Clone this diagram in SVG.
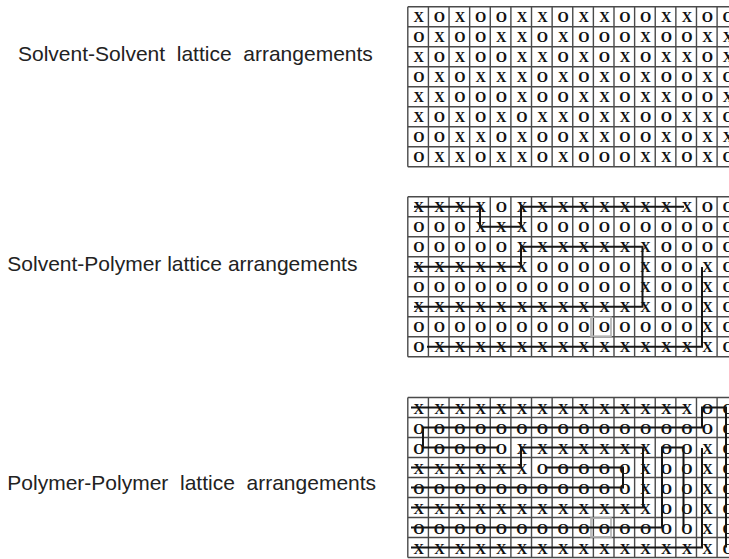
<svg xmlns="http://www.w3.org/2000/svg" xmlns:xlink="http://www.w3.org/1999/xlink" width="729" height="559" viewBox="0 0 729 559">
<style>
.lbl{font-family:"Liberation Sans",Arial,sans-serif;font-size:21px;fill:#222;white-space:pre;}
.cell{font-family:"Liberation Serif","Times New Roman",serif;font-weight:bold;font-size:14.5px;fill:#111;text-anchor:middle;}
.grid{fill:none;stroke:#4a4a4a;stroke-width:1.4;}
.chain{fill:none;stroke:#151515;stroke-width:2;stroke-linejoin:miter;}
.ghost{fill:none;stroke:#b0b0b0;stroke-width:1.6;}
</style>
<defs>
<path id="gridlines" d="M407.8,0H740M407.8,20H740M407.8,40H740M407.8,60H740M407.8,80H740M407.8,100H740M407.8,120H740M407.8,140H740M407.8,160H740M407.8,0V160M428.42,0V160M449.04,0V160M469.66,0V160M490.28,0V160M510.9,0V160M531.52,0V160M552.14,0V160M572.76,0V160M593.38,0V160M614,0V160M634.62,0V160M655.24,0V160M675.86,0V160M696.48,0V160M717.1,0V160"/>
</defs>
<rect width="729" height="559" fill="#fff"/>

<g id="label-solvent-solvent">
<text class="lbl" x="18" y="61" xml:space="preserve">Solvent-Solvent  lattice  arrangements</text>
</g>
<g id="label-solvent-polymer">
<text class="lbl" x="7.3" y="271">Solvent-Polymer lattice arrangements</text>
</g>
<g id="label-polymer-polymer">
<text class="lbl" x="7.3" y="490" xml:space="preserve">Polymer-Polymer  lattice  arrangements</text>
</g>

<g id="lattice-solvent-solvent">
<use xlink:href="#gridlines" href="#gridlines" class="grid" transform="translate(0,6.7)"/>
<g class="cell">
<text x="418.8 439.4 460 480.7 501.3 521.9 542.5 563.2 583.8 604.4 625 645.6 666.3 686.9 707.5 728.1" y="22.4">XOXOOXXOXXOOXXOO</text>
<text x="418.8 439.4 460 480.7 501.3 521.9 542.5 563.2 583.8 604.4 625 645.6 666.3 686.9 707.5 728.1" y="42.4">OXOOXXOXOOOXOOXX</text>
<text x="418.8 439.4 460 480.7 501.3 521.9 542.5 563.2 583.8 604.4 625 645.6 666.3 686.9 707.5 728.1" y="62.4">XOXOOXXOXOXOXXOX</text>
<text x="418.8 439.4 460 480.7 501.3 521.9 542.5 563.2 583.8 604.4 625 645.6 666.3 686.9 707.5 728.1" y="82.4">OXOXXXOXOXOXOOXO</text>
<text x="418.8 439.4 460 480.7 501.3 521.9 542.5 563.2 583.8 604.4 625 645.6 666.3 686.9 707.5 728.1" y="102.4">XXOOOXOOXXOXXOOX</text>
<text x="418.8 439.4 460 480.7 501.3 521.9 542.5 563.2 583.8 604.4 625 645.6 666.3 686.9 707.5 728.1" y="122.4">XOXOXOXXOXXOOXXO</text>
<text x="418.8 439.4 460 480.7 501.3 521.9 542.5 563.2 583.8 604.4 625 645.6 666.3 686.9 707.5 728.1" y="142.4">OOXXOXOOXXOOXOXX</text>
<text x="418.8 439.4 460 480.7 501.3 521.9 542.5 563.2 583.8 604.4 625 645.6 666.3 686.9 707.5 728.1" y="162.4">OXXOXXOXOOOXXOXO</text>
</g>
</g>

<g id="lattice-solvent-polymer">
<use xlink:href="#gridlines" href="#gridlines" class="grid" transform="translate(0,196.7)"/>
<rect class="ghost" x="591" y="317.2" width="20" height="19"/>
<g class="cell">
<text x="418.8 439.4 460 480.7 501.3 521.9 542.5 563.2 583.8 604.4 625 645.6 666.3 686.9 707.5 728.1" y="212.4">XXXXOXXXXXXXXXOO</text>
<text x="418.8 439.4 460 480.7 501.3 521.9 542.5 563.2 583.8 604.4 625 645.6 666.3 686.9 707.5 728.1" y="232.4">OOOXXXOOOOOOOOOO</text>
<text x="418.8 439.4 460 480.7 501.3 521.9 542.5 563.2 583.8 604.4 625 645.6 666.3 686.9 707.5 728.1" y="252.4">OOOOOXXXXXXXOOOO</text>
<text x="418.8 439.4 460 480.7 501.3 521.9 542.5 563.2 583.8 604.4 625 645.6 666.3 686.9 707.5 728.1" y="272.4">XXXXXXOOOOOXOOXO</text>
<text x="418.8 439.4 460 480.7 501.3 521.9 542.5 563.2 583.8 604.4 625 645.6 666.3 686.9 707.5 728.1" y="292.4">OOOOOOOOOOOXOOXO</text>
<text x="418.8 439.4 460 480.7 501.3 521.9 542.5 563.2 583.8 604.4 625 645.6 666.3 686.9 707.5 728.1" y="312.4">XXXXXXXXXXXXOOXO</text>
<text x="418.8 439.4 460 480.7 501.3 521.9 542.5 563.2 583.8 604.4 625 645.6 666.3 686.9 707.5 728.1" y="332.4">OOOOOOOOOOOOOOXO</text>
<text x="418.8 439.4 460 480.7 501.3 521.9 542.5 563.2 583.8 604.4 625 645.6 666.3 686.9 707.5 728.1" y="352.4">OXXXXXXXXXXXXXXO</text>
</g>
</g>

<g id="lattice-polymer-polymer">
<use xlink:href="#gridlines" href="#gridlines" class="grid" transform="translate(0,397.5)"/>
<rect class="ghost" x="591" y="518" width="20" height="19"/>
<g class="cell">
<text x="418.8 439.4 460 480.7 501.3 521.9 542.5 563.2 583.8 604.4 625 645.6 666.3 686.9 707.5 728.1" y="413.6">XXXXXXXXXXXXXXOO</text>
<text x="418.8 439.4 460 480.7 501.3 521.9 542.5 563.2 583.8 604.4 625 645.6 666.3 686.9 707.5 728.1" y="433.6">OOOOOOOOOOOOOOOO</text>
<text x="418.8 439.4 460 480.7 501.3 521.9 542.5 563.2 583.8 604.4 625 645.6 666.3 686.9 707.5 728.1" y="453.6">OOOOOXXXXXXXOOXO</text>
<text x="418.8 439.4 460 480.7 501.3 521.9 542.5 563.2 583.8 604.4 625 645.6 666.3 686.9 707.5 728.1" y="473.6">XXXXXXOOOOOXOOXO</text>
<text x="418.8 439.4 460 480.7 501.3 521.9 542.5 563.2 583.8 604.4 625 645.6 666.3 686.9 707.5 728.1" y="493.6">OOOOOOOOOOOXOOXO</text>
<text x="418.8 439.4 460 480.7 501.3 521.9 542.5 563.2 583.8 604.4 625 645.6 666.3 686.9 707.5 728.1" y="513.6">XXXXXXXXXXXXOOXO</text>
<text x="418.8 439.4 460 480.7 501.3 521.9 542.5 563.2 583.8 604.4 625 645.6 666.3 686.9 707.5 728.1" y="533.6">OOOOOOOOOOOOOOXO</text>
<text x="418.8 439.4 460 480.7 501.3 521.9 542.5 563.2 583.8 604.4 625 645.6 666.3 686.9 707.5 728.1" y="553.6">XXXXXXXXXXXXXXXO</text>
</g>
</g>

<g id="chains">
<path class="chain" d="M414,206.7H480V226.7H521V206.7H684"/>
<path class="chain" d="M414,266.7H521V246.7H642.5V306.7H414"/>
<path class="chain" d="M427,346.7H702V267"/>
<path class="chain" d="M411,407.5H686"/>
<path class="chain" d="M726,547.5V407.5H702V427.5H423V447.5H499"/>
<path class="chain" d="M411,467.5H521V447.5H643V507.5H411"/>
<path class="chain" d="M546,467.5H623V487.5H411"/>
<path class="chain" d="M411,527.5H662V447.5H683.5V527.5"/>
<path class="chain" d="M411,547.5H702V448"/>
</g>
</svg>
